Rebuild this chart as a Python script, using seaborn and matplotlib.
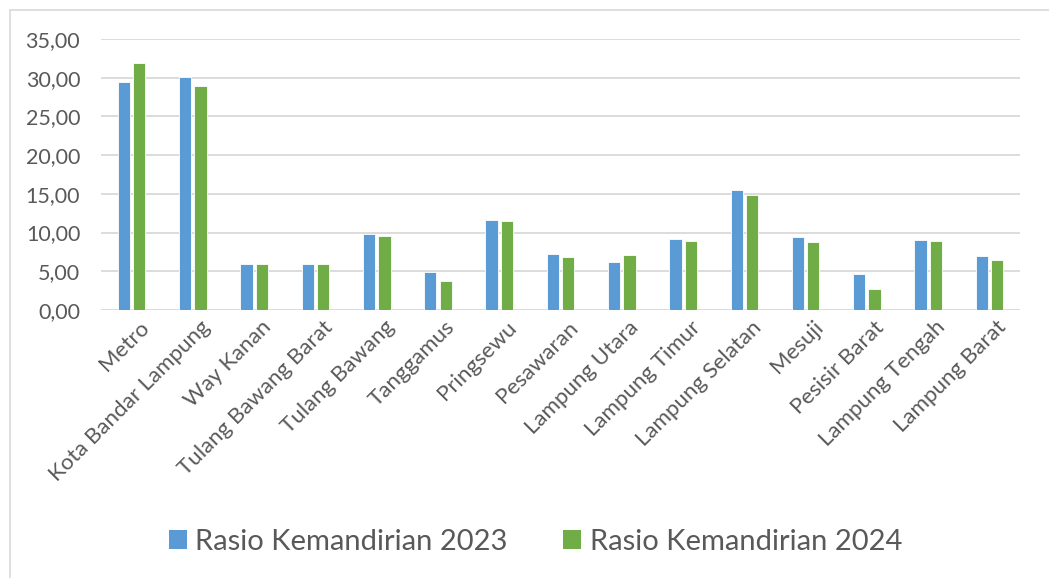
import pandas as pd
import matplotlib.pyplot as plt
import matplotlib.transforms as mtransforms
import seaborn as sns
from matplotlib.patches import Patch, Rectangle
from matplotlib.ticker import FuncFormatter

regions = ['Metro', 'Kota Bandar Lampung', 'Way Kanan', 'Tulang Bawang Barat', 'Tulang Bawang',
           'Tanggamus', 'Pringsewu', 'Pesawaran', 'Lampung Utara', 'Lampung Timur',
           'Lampung Selatan', 'Mesuji', 'Pesisir Barat', 'Lampung Tengah', 'Lampung Barat']
rasio_2023 = [29.5, 30.1, 5.9, 5.9, 9.8, 4.9, 11.6, 7.2, 6.2, 9.2, 15.5, 9.4, 4.7, 9.0, 7.0]
rasio_2024 = [31.9, 28.9, 5.9, 5.9, 9.6, 3.75, 11.45, 6.9, 7.1, 8.9, 14.8, 8.8, 2.7, 8.85, 6.45]
series = ['Rasio Kemandirian 2023', 'Rasio Kemandirian 2024']
colors = ['#5b9bd5', '#70ad47']

df = pd.DataFrame({'region': regions * 2,
                   'value': rasio_2023 + rasio_2024,
                   'series': [series[0]] * len(regions) + [series[1]] * len(regions)})

sns.set_style('white')
plt.rcParams['font.family'] = ['Lato', 'DejaVu Sans']
text_col = '#595959'

fig = plt.figure(figsize=(10.49, 5.78), dpi=100)
ax = fig.add_axes([0.0963, 0.4637, 0.8761, 0.4688])

sns.barplot(data=df, x='region', y='value', hue='series', palette=colors,
            width=0.5, gap=0.2, legend=False, ax=ax,
            edgecolor='white', linewidth=0.6, saturation=1)

ax.set_ylim(0, 35)
ax.set_xlim(-0.5, len(regions) - 0.5)
ax.set_yticks(range(0, 36, 5))
ax.yaxis.set_major_formatter(FuncFormatter(lambda v, p: f'{v:.2f}'.replace('.', ',')))
ax.grid(axis='y', color='#d9d9d9', linewidth=1.3)
ax.set_axisbelow(True)
for s in ax.spines.values():
    s.set_visible(False)
ax.set_xlabel('')
ax.set_ylabel('')
ax.tick_params(axis='y', labelsize=15.5, labelcolor=text_col, length=0, pad=15)
ax.tick_params(axis='x', length=0, pad=8)
ax.set_xticks(range(len(regions)))
ax.set_xticklabels(regions, rotation=45, ha='right', rotation_mode='anchor',
                   fontsize=16, color=text_col)
offset = mtransforms.ScaledTranslation(7 / 100, 4 / 100, fig.dpi_scale_trans)
for lab in ax.get_xticklabels():
    lab.set_transform(lab.get_transform() + offset)

handles = [Patch(facecolor=c, edgecolor='none') for c in colors]
fig.legend(handles, series, loc='center', bbox_to_anchor=(0.5105, 0.062), ncol=2,
           frameon=False, fontsize=21, labelcolor=text_col,
           handlelength=0.62, handleheight=0.62, handletextpad=0.3, columnspacing=1.9)

fig.patches.append(Rectangle((10 / 1049, -0.1), 1.5, 1.1 - 10 / 578, transform=fig.transFigure,
                             fill=False, edgecolor='#d9d9d9', linewidth=1.2))

fig.savefig('out.png', dpi=100)
